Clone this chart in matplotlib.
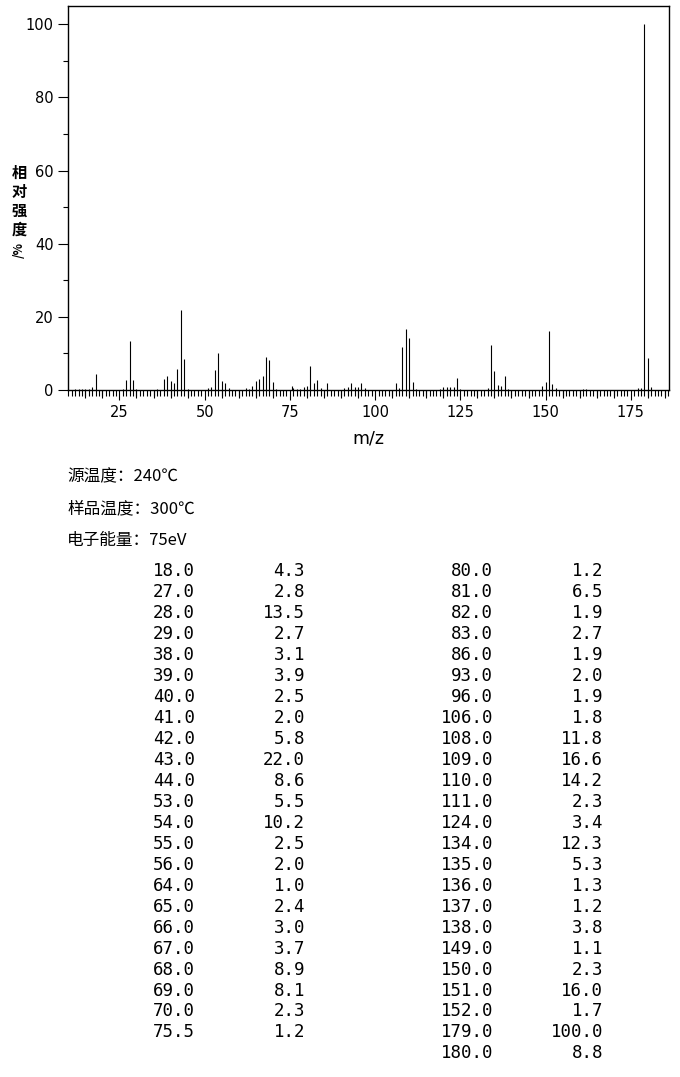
import matplotlib
matplotlib.use("Agg")
import matplotlib.pyplot as plt
from matplotlib.ticker import MultipleLocator, FixedLocator, NullFormatter

plt.rcParams["font.family"] = ["DejaVu Sans", "Noto Sans CJK SC"]

# peaks listed in the table (m/z, relative intensity %)
mz_left = [18.0, 27.0, 28.0, 29.0, 38.0, 39.0, 40.0, 41.0, 42.0, 43.0, 44.0, 53.0,
           54.0, 55.0, 56.0, 64.0, 65.0, 66.0, 67.0, 68.0, 69.0, 70.0, 75.5]
int_left = [4.3, 2.8, 13.5, 2.7, 3.1, 3.9, 2.5, 2.0, 5.8, 22.0, 8.6, 5.5,
            10.2, 2.5, 2.0, 1.0, 2.4, 3.0, 3.7, 8.9, 8.1, 2.3, 1.2]
mz_right = [80.0, 81.0, 82.0, 83.0, 86.0, 93.0, 96.0, 106.0, 108.0, 109.0, 110.0, 111.0,
            124.0, 134.0, 135.0, 136.0, 137.0, 138.0, 149.0, 150.0, 151.0, 152.0, 179.0, 180.0]
int_right = [1.2, 6.5, 1.9, 2.7, 1.9, 2.0, 1.9, 1.8, 11.8, 16.6, 14.2, 2.3,
             3.4, 12.3, 5.3, 1.3, 1.2, 3.8, 1.1, 2.3, 16.0, 1.7, 100.0, 8.8]

# small peaks visible in the spectrum but not in the table (estimated)
mz_small = [12, 13, 14, 15, 16, 17, 26, 30, 36, 45, 51, 52, 57, 62, 63, 71, 76, 77, 78, 79,
            84, 91, 92, 94, 95, 97, 107, 112, 119, 120, 121, 122, 123, 125, 133, 139, 153,
            161, 162, 177, 178, 181]
int_small = [0.4, 0.4, 0.4, 0.4, 0.4, 0.8, 0.4, 0.4, 0.3, 0.4, 0.5, 0.7, 0.5, 0.5, 0.4, 0.4,
             0.5, 0.3, 0.4, 0.8, 0.5, 0.5, 0.8, 0.8, 0.8, 0.5, 0.5, 0.3, 0.3, 0.8, 0.8, 0.8,
             0.8, 0.3, 0.5, 0.3, 0.5, 0.3, 0.3, 0.5, 0.5, 0.8]

info_lines = ["源温度：240℃", "样品温度：300℃", "电子能量：75eV"]

W, H = 680, 1077
fig = plt.figure(figsize=(W / 100, H / 100), dpi=100)
ax = fig.add_axes([68.3 / W, 1 - 390 / H, 601 / W, 384 / H])

mz_all = mz_left + mz_right + mz_small
int_all = int_left + int_right + int_small
ax.vlines(mz_all, 0, int_all, colors="black", linewidth=0.8)

ax.set_xlim(10, 186.3)
ax.set_ylim(0, 105)

for s in ax.spines.values():
    s.set_linewidth(1.0)
    s.set_color("black")

ax.yaxis.set_major_locator(MultipleLocator(20))
ax.yaxis.set_minor_locator(MultipleLocator(10))
ax.xaxis.set_major_locator(MultipleLocator(25))
ax.xaxis.set_minor_locator(MultipleLocator(1))
ax.tick_params(axis="both", which="major", direction="out", length=7.5, width=0.8,
               labelsize=10.5, colors="black")
ax.tick_params(axis="both", which="minor", direction="out", length=4.5, width=0.8)
ax.tick_params(axis="y", which="minor", length=3.8)
ax.tick_params(axis="x", which="major", pad=3)
ax.tick_params(axis="y", which="major", pad=3)

# medium ticks at every 5
sec = ax.secondary_xaxis("bottom")
sec.xaxis.set_major_locator(FixedLocator([v for v in range(15, 186, 5) if v % 25]))
sec.xaxis.set_major_formatter(NullFormatter())
sec.tick_params(direction="out", length=5.5, width=0.8)
sec.spines["bottom"].set_visible(False)

ax.set_xlabel("m/z", fontsize=12.5, labelpad=7)

# vertical y label, characters stacked upright
cjk = ["Noto Sans CJK SC", "DejaVu Sans"]
for i, ch in enumerate("相对强度"):
    fig.text(19 / W, 1 - (172.5 + i * 19.2) / H, ch, family=cjk, fontsize=11,
             weight="bold", ha="center", va="center")
fig.text(19 / W, 1 - 250 / H, "/%", family=cjk, fontsize=8.5, weight="bold",
         rotation=90, ha="center", va="center")

for i, line in enumerate(info_lines):
    fig.text(67 / W, 1 - (477 + i * 31.5) / H, line, family=cjk, fontsize=12,
             ha="left", va="center")

# peak table
step = 20.95
cols = [(mz_left, 195), (int_left, 305), (mz_right, 493), (int_right, 603)]
for vals, xr in cols:
    for i, v in enumerate(vals):
        fig.text(xr / W, 1 - (576.5 + i * step) / H, f"{v:.1f}",
                 family="DejaVu Sans Mono", fontsize=12.5, ha="right", va="baseline")

fig.savefig("out.png", dpi=100)
